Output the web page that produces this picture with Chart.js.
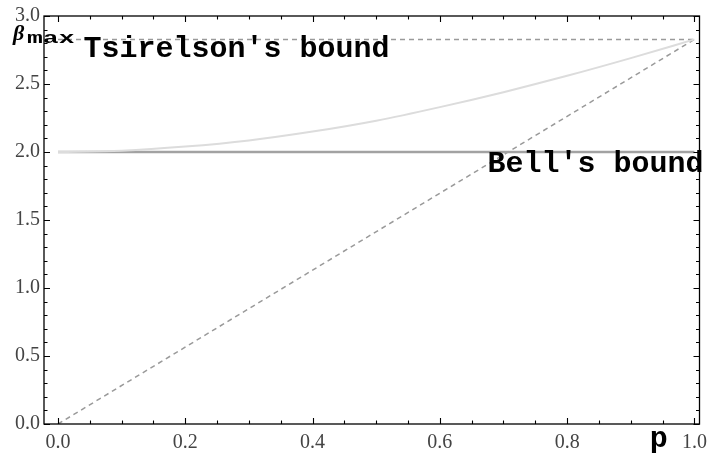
<!DOCTYPE html>
<html>
<head>
<meta charset="utf-8">
<script src="https://cdn.jsdelivr.net/npm/chart.js@4.4.1/dist/chart.umd.min.js"></script>
<style>
  html, body { margin: 0; padding: 0; background: #fff; }
  #wrap { width: 714px; height: 456px; }
</style>
</head>
<body>
<div id="wrap"><canvas id="chart" width="714" height="456"></canvas></div>
<script>
// values
const pValues = [0, 0.1, 0.2, 0.3, 0.4, 0.5, 0.6, 0.7, 0.8, 0.9, 1.0];
const curveValues = [2.0, 2.01, 2.04, 2.085, 2.15, 2.23, 2.33, 2.44, 2.56, 2.69, 2.828];
const diagonalP = [0, 1];
const diagonalValues = [0, 2.828];
const tsirelsonP = [0, 1];
const tsirelsonValues = [2.828, 2.828];
const bellP = [0, 1];
const bellValues = [2, 2];
const xTickValues = [];
for (let i = 0; i <= 20; i++) xTickValues.push(i / 20);
const yTickValues = [];
for (let i = 0; i <= 30; i++) yTickValues.push(i / 10);

function toPoints(xs, ys) {
  return xs.map((x, i) => ({ x: x, y: ys[i] }));
}

function isMajor(v, step) {
  const r = v / step;
  return Math.abs(r - Math.round(r)) < 1e-6;
}

// frame with inward ticks on all four sides, plus the text labels
const framePlugin = {
  id: 'frame',
  afterDraw(chart) {
    const ctx = chart.ctx;
    const a = chart.chartArea;
    const xs = chart.scales.x;
    const ys = chart.scales.y;
    ctx.save();
    ctx.strokeStyle = '#000';
    ctx.lineWidth = 1.3;
    ctx.strokeRect(a.left, a.top, a.right - a.left, a.bottom - a.top);

    ctx.lineWidth = 1.1;
    ctx.beginPath();
    xTickValues.forEach(v => {
      const px = Math.round(xs.getPixelForValue(v)) + 0.5;
      const len = isMajor(v, 0.2) ? 6 : 3.5;
      ctx.moveTo(px, a.bottom); ctx.lineTo(px, a.bottom - len);
      ctx.moveTo(px, a.top); ctx.lineTo(px, a.top + len);
    });
    yTickValues.forEach(v => {
      const py = Math.round(ys.getPixelForValue(v)) + 0.5;
      const len = isMajor(v, 0.5) ? 6 : 3.5;
      ctx.moveTo(a.left, py); ctx.lineTo(a.left + len, py);
      ctx.moveTo(a.right, py); ctx.lineTo(a.right - len, py);
    });
    ctx.stroke();

    // annotations
    ctx.fillStyle = '#000';
    ctx.textBaseline = 'alphabetic';
    ctx.textAlign = 'left';
    ctx.font = 'bold 30px "Liberation Mono", monospace';
    ctx.fillText("Tsirelson's bound", xs.getPixelForValue(0.04), 57);
    ctx.fillText("Bell's bound", xs.getPixelForValue(0.675), 172);
    ctx.fillText('p', xs.getPixelForValue(0.93), 447);

    ctx.font = 'italic bold 22px "Liberation Serif", serif';
    ctx.fillText('\u03b2', 13, 40);
    ctx.save();
    ctx.translate(27, 43);
    ctx.scale(1.65, 1);
    ctx.font = 'bold 16px "Liberation Mono", monospace';
    ctx.fillText('max', 0, 0);
    ctx.restore();
    ctx.restore();
  }
};

const tickFont = { family: '"Liberation Serif", "Times New Roman", serif', size: 20 };

new Chart(document.getElementById('chart'), {
  type: 'line',
  data: {
    datasets: [
      {
        data: toPoints(pValues, curveValues),
        borderColor: '#dcdcdc',
        borderWidth: 2,
        pointRadius: 0,
        tension: 0.4,
        cubicInterpolationMode: 'monotone'
      },
      {
        data: toPoints(bellP, bellValues),
        borderColor: '#a2a2a2',
        borderWidth: 2.5,
        pointRadius: 0
      },
      {
        data: toPoints(tsirelsonP, tsirelsonValues),
        borderColor: '#9a9a9a',
        borderWidth: 1.5,
        borderDash: [5, 4],
        pointRadius: 0
      },
      {
        data: toPoints(diagonalP, diagonalValues),
        borderColor: '#9a9a9a',
        borderWidth: 1.5,
        borderDash: [5, 4],
        pointRadius: 0
      }
    ]
  },
  options: {
    responsive: false,
    animation: false,
    layout: { padding: { top: 13, right: 11, left: 0, bottom: 0 } },
    plugins: { legend: { display: false }, tooltip: { enabled: false } },
    scales: {
      x: {
        type: 'linear',
        min: -0.022,
        max: 1.008,
        afterBuildTicks: s => { s.ticks = xTickValues.map(v => ({ value: v })); },
        afterFit: s => { s.height = 32; },
        grid: { display: false, drawTicks: false },
        border: { display: false },
        ticks: {
          autoSkip: false,
          maxRotation: 0,
          padding: 7,
          color: '#444',
          font: tickFont,
          callback: v => isMajor(v, 0.2) ? v.toFixed(1) : ''
        }
      },
      y: {
        type: 'linear',
        min: 0,
        max: 3,
        afterBuildTicks: s => { s.ticks = yTickValues.map(v => ({ value: v })); },
        afterFit: s => { s.width = 44; },
        grid: { display: false, drawTicks: false },
        border: { display: false },
        ticks: {
          autoSkip: false,
          padding: 4,
          color: '#444',
          font: tickFont,
          callback: v => isMajor(v, 0.5) ? v.toFixed(1) : ''
        }
      }
    }
  },
  plugins: [framePlugin]
});
</script>
</body>
</html>
